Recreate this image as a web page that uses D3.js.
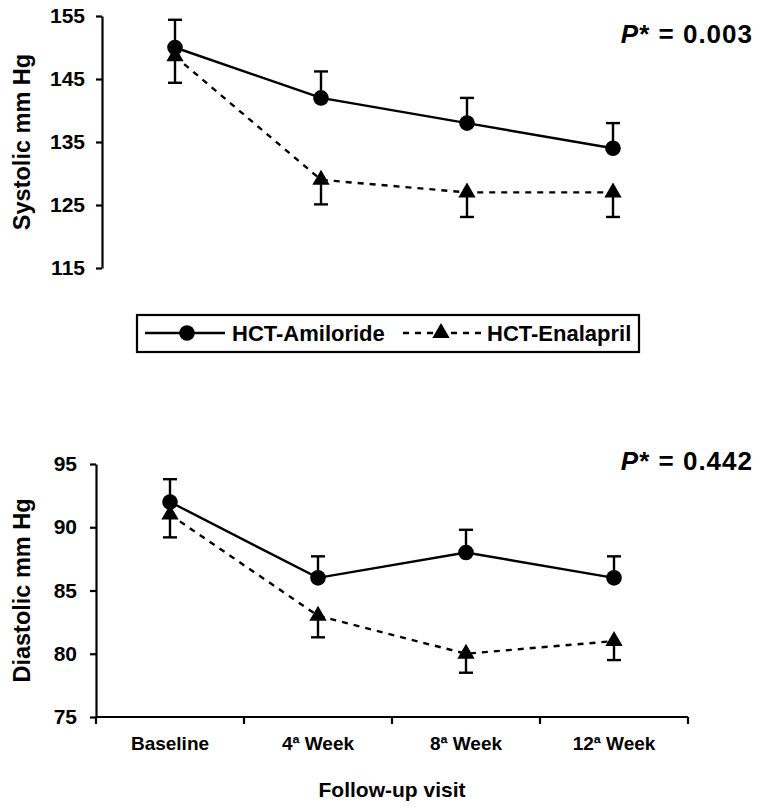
<html lang="en">
<head>
    <meta charset="UTF-8">
    <title>Blood pressure follow-up</title>
    <style>
        body { margin: 0; background: #fff; }
        text { font-family: "Liberation Sans", Arial, sans-serif; font-weight: bold; fill: #000; }
        .axis path, .axis line { stroke: #000; stroke-width: 2.2px; }
        .axis text { font-size: 21px; }
        .line { fill: none; stroke: #000; stroke-width: 2.4px; }
        .dashed { stroke-dasharray: 6, 6; }
        .err { stroke: #000; stroke-width: 2.4px; }
    </style>
</head>
<body>
    <script src="https://cdnjs.cloudflare.com/ajax/libs/d3/7.8.5/d3.min.js"></script>
    <script>

    var visits = ["Baseline", "4ª Week", "8ª Week", "12ª Week"];

    var systolicAmiloride = [150, 142, 138, 134],
        systolicAmilorideErr = [4.4, 4.2, 4.0, 4.0],
        systolicEnalapril = [148.6, 129, 127, 127],
        systolicEnalaprilErr = [4.2, 3.9, 3.9, 3.9];

    var diastolicAmiloride = [92, 86, 88, 86],
        diastolicAmilorideErr = [1.8, 1.7, 1.8, 1.7],
        diastolicEnalapril = [91, 83, 80, 81],
        diastolicEnalaprilErr = [1.8, 1.7, 1.5, 1.5];

    var systolicTicks = [115, 125, 135, 145, 155],
        diastolicTicks = [75, 80, 85, 90, 95];

    var seriesNames = ["HCT-Amiloride", "HCT-Enalapril"];

    var svg = d3.select("body").append("svg")
      .attr("width", 759)
      .attr("height", 807);

    var triangle = d3.symbol().type(d3.symbolTriangle).size(130);

    drawPanel({
      left: 102, right: 686, top: 16, bottom: 268,
      domain: [115, 155], ticks: systolicTicks, pad: 11,
      a: systolicAmiloride, aErr: systolicAmilorideErr,
      e: systolicEnalapril, eErr: systolicEnalaprilErr,
      title: "Systolic mm Hg", pValue: "0.003", pY: 43,
      xAxis: false
    });

    drawPanel({
      left: 96, right: 688, top: 464, bottom: 717,
      domain: [75, 95], ticks: diastolicTicks, pad: 13,
      a: diastolicAmiloride, aErr: diastolicAmilorideErr,
      e: diastolicEnalapril, eErr: diastolicEnalaprilErr,
      title: "Diastolic mm Hg", pValue: "0.442", pY: 470,
      xAxis: true
    });

    drawLegend();

    function drawPanel(p) {

      var g = svg.append("g");

      var x = d3.scalePoint()
        .domain(visits)
        .range([p.left, p.right])
        .padding(0.5);

      var y = d3.scaleLinear()
        .domain(p.domain)
        .range([p.bottom, p.top]);

      g.append("g")
        .attr("class", "axis")
        .attr("transform", "translate(" + p.left + ",0)")
        .call(d3.axisLeft(y).tickValues(p.ticks).tickSize(6).tickSizeOuter(0).tickPadding(p.pad));

      if (p.xAxis) {
        var edges = d3.range(visits.length + 1).map(function(i) {
          return p.left + i * x.step();
        });
        var xa = g.append("g")
          .attr("class", "axis")
          .attr("transform", "translate(0," + p.bottom + ")");
        xa.append("line")
          .attr("x1", p.left).attr("x2", p.right);
        xa.selectAll(".edge")
          .data(edges)
          .enter().append("line")
            .attr("class", "edge")
            .attr("x1", function(d) { return d; })
            .attr("x2", function(d) { return d; })
            .attr("y2", 7);
        xa.selectAll(".lbl")
          .data(visits)
          .enter().append("text")
            .attr("class", "lbl")
            .attr("x", function(d) { return x(d); })
            .attr("y", 33)
            .attr("text-anchor", "middle")
            .style("font-size", "19px")
            .text(function(d) { return d; });
        g.append("text")
          .attr("x", (p.left + p.right) / 2)
          .attr("y", p.bottom + 80)
          .attr("text-anchor", "middle")
          .style("font-size", "21px")
          .text("Follow-up visit");
      }

      g.append("text")
        .attr("transform", "translate(30," + (p.top + p.bottom) / 2 + ") rotate(-90)")
        .attr("text-anchor", "middle")
        .style("font-size", "23.5px")
        .text(p.title);

      var pt = g.append("text")
        .attr("x", 753)
        .attr("y", p.pY)
        .attr("text-anchor", "end")
        .style("font-size", "26px")
        .style("letter-spacing", "1px");
      pt.append("tspan").style("font-style", "italic").text("P");
      pt.append("tspan").text("* = " + p.pValue);

      var line = d3.line()
        .x(function(d, i) { return x(visits[i]); })
        .y(function(d) { return y(d); });

      // error bars: amiloride upward, enalapril downward
      errorBars(g, p.a, p.aErr, 1, x, y);
      errorBars(g, p.e, p.eErr, -1, x, y);

      g.append("path")
        .datum(p.e)
        .attr("class", "line dashed")
        .attr("d", line);

      g.append("path")
        .datum(p.a)
        .attr("class", "line")
        .attr("d", line);

      g.selectAll(".tri")
        .data(p.e)
        .enter().append("path")
          .attr("class", "tri")
          .attr("transform", function(d, i) { return "translate(" + x(visits[i]) + "," + y(d) + ")"; })
          .attr("d", triangle);

      g.selectAll(".dot")
        .data(p.a)
        .enter().append("circle")
          .attr("class", "dot")
          .attr("cx", function(d, i) { return x(visits[i]); })
          .attr("cy", function(d) { return y(d); })
          .attr("r", 7.8);
    }

    function errorBars(g, values, errs, dir, x, y) {

      var bars = g.selectAll(null)
        .data(values)
        .enter().append("g")
          .attr("transform", function(d, i) { return "translate(" + x(visits[i]) + ",0)"; });

      bars.append("line")
        .attr("class", "err")
        .attr("y1", function(d) { return y(d); })
        .attr("y2", function(d, i) { return y(d + dir * errs[i]); });

      bars.append("line")
        .attr("class", "err")
        .attr("x1", -7).attr("x2", 7)
        .attr("y1", function(d, i) { return y(d + dir * errs[i]); })
        .attr("y2", function(d, i) { return y(d + dir * errs[i]); });
    }

    function drawLegend() {

      var lg = svg.append("g");
      var cy = 333;

      lg.append("rect")
        .attr("x", 137).attr("y", 315)
        .attr("width", 502).attr("height", 37)
        .attr("fill", "none")
        .attr("stroke", "#000")
        .attr("stroke-width", 2.2);

      lg.append("line")
        .attr("class", "line")
        .attr("x1", 145).attr("x2", 225)
        .attr("y1", cy).attr("y2", cy);
      lg.append("circle")
        .attr("cx", 187).attr("cy", cy).attr("r", 7.8);
      lg.append("text")
        .attr("x", 232).attr("y", cy + 8)
        .style("font-size", "22px")
        .text(seriesNames[0]);

      lg.append("line")
        .attr("class", "line dashed")
        .attr("x1", 403).attr("x2", 483)
        .attr("y1", cy).attr("y2", cy);
      lg.append("path")
        .attr("transform", "translate(441," + cy + ")")
        .attr("d", triangle);
      lg.append("text")
        .attr("x", 487).attr("y", cy + 8)
        .style("font-size", "22px")
        .text(seriesNames[1]);
    }

    </script>
</body>
</html>
